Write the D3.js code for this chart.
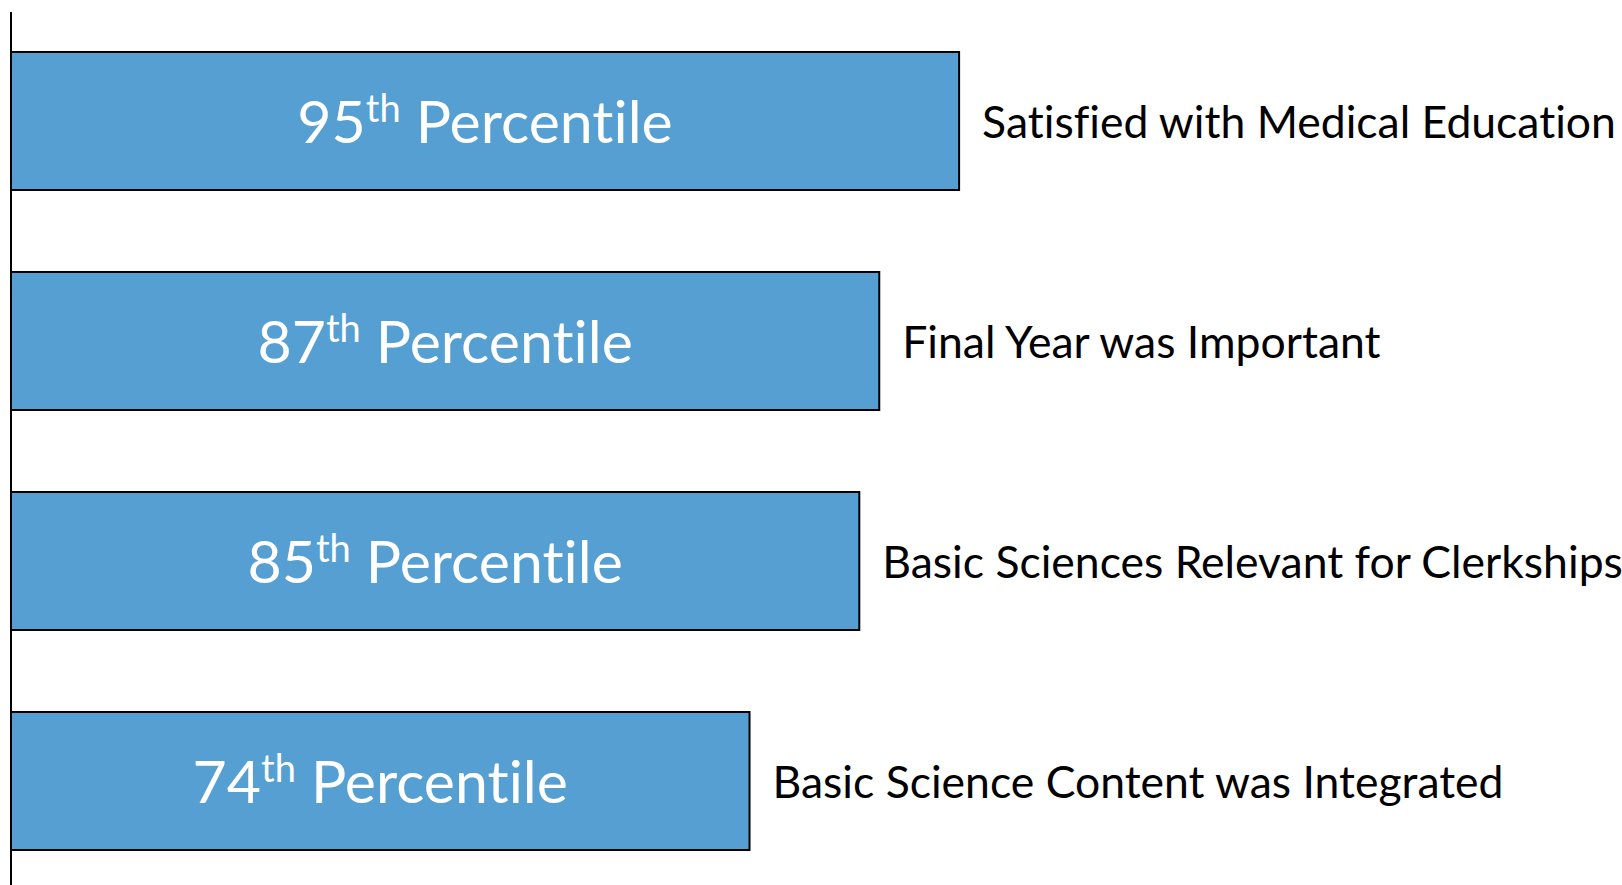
<!DOCTYPE html>
<html>
<head>
<meta charset="utf-8">
<script src="https://cdn.jsdelivr.net/npm/d3@7"></script>
<style>
  html, body { margin: 0; padding: 0; background: #fff; }
  #chart { width: 1622px; height: 885px; }
  text { font-variant-ligatures: none; }
</style>
</head>
<body>
<div id="chart"></div>
<script>
// data
const categories = [
    "Satisfied with Medical Education",
    "Final Year was Important",
    "Basic Sciences Relevant for Clerkships",
    "Basic Science Content was Integrated"
];
const percentiles = [95, 87, 85, 74];
const suffixes = ["th", "th", "th", "th"];

const width = 1622;
const height = 885;

const svg = d3.select("#chart").append("svg")
    .attr("width", width)
    .attr("height", height);

const x = d3.scaleLinear().domain([0, 100]).range([11, 1009]);
const y = d3.scaleBand()
    .domain(categories)
    .range([12, 890])
    .paddingInner(0.3727)
    .paddingOuter(0.1818);

const rows = categories.map((c, i) => ({ category: c, value: percentiles[i], suffix: suffixes[i] }));

// bars
svg.selectAll("rect.bar")
    .data(rows)
    .join("rect")
    .attr("class", "bar")
    .attr("x", x(0))
    .attr("y", d => y(d.category))
    .attr("width", d => x(d.value) - x(0))
    .attr("height", y.bandwidth())
    .attr("fill", "#569fd3")
    .attr("stroke", "#000")
    .attr("stroke-width", 2);

// percentile text inside the bars
const inner = svg.selectAll("text.inner")
    .data(rows)
    .join("text")
    .attr("class", "inner")
    .attr("x", d => (x(0) + x(d.value)) / 2)
    .attr("y", d => y(d.category) + y.bandwidth() / 2 + 22)
    .attr("text-anchor", "middle")
    .attr("fill", "#fff")
    .attr("font-family", "Lato, 'Open Sans', sans-serif")
    .attr("font-size", "59px");

inner.append("tspan").text(d => d.value);
inner.append("tspan")
    .attr("font-size", "38px")
    .attr("dy", -21)
    .text(d => d.suffix);
inner.append("tspan")
    .attr("dy", 21)
    .text(" Percentile");

// category labels right of the bars
svg.selectAll("text.label")
    .data(rows)
    .join("text")
    .attr("class", "label")
    .attr("x", d => x(d.value) + 23)
    .attr("y", d => y(d.category) + y.bandwidth() / 2 + 17)
    .attr("fill", "#000")
    .attr("font-family", "Lato, 'Open Sans', sans-serif")
    .attr("font-size", "44.5px")
    .text(d => d.category);

// vertical axis line
svg.append("line")
    .attr("x1", x(0)).attr("x2", x(0))
    .attr("y1", 12).attr("y2", height)
    .attr("stroke", "#000")
    .attr("stroke-width", 2);
</script>
</body>
</html>
